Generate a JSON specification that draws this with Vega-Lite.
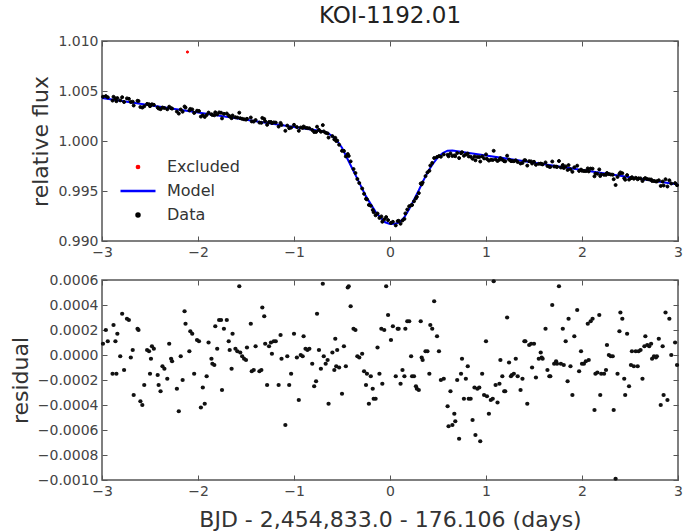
{
  "$schema": "https://vega.github.io/schema/vega-lite/v6.json",
  "padding": {"left": 8, "right": 0, "top": 4, "bottom": 0},
  "background": "white",
  "spacing": 12,
  "config": {
    "font": "DejaVu Sans",
    "view": {"stroke": "#555", "strokeWidth": 1.5},
    "axis": {"grid": false, "domain": false, "tickColor": "#555", "tickSize": -5, "tickWidth": 1, "labelPadding": 9, "labelFlush": false, "labelColor": "#444", "labelFontSize": 14, "labelFont": "DejaVu Sans", "titleFont": "DejaVu Sans", "titleFontSize": 22, "titleFontWeight": "normal", "titleColor": "#333", "titlePadding": 5},
    "legend": {"orient": "none", "legendX": 28, "legendY": 118, "labelFontSize": 16, "labelFont": "DejaVu Sans", "labelColor": "#333", "rowPadding": 8, "labelOffset": 21, "symbolStrokeWidth": 2.5}
  },
  "datasets": {
    "model": [
      {"t": -3, "flux": 1.0043, "s": "Model"}, {"t": -2, "flux": 1.00285, "s": "Model"}, {"t": -1, "flux": 1.0014, "s": "Model"},
      {"t": -0.7, "flux": 1.00097, "s": "Model"}, {"t": -0.65, "flux": 1.0008, "s": "Model"}, {"t": -0.6, "flux": 1.00047, "s": "Model"},
      {"t": -0.55, "flux": 1.0, "s": "Model"}, {"t": -0.5, "flux": 0.99933, "s": "Model"}, {"t": -0.45, "flux": 0.99835, "s": "Model"},
      {"t": -0.4, "flux": 0.99738, "s": "Model"}, {"t": -0.35, "flux": 0.99641, "s": "Model"}, {"t": -0.3, "flux": 0.99544, "s": "Model"},
      {"t": -0.25, "flux": 0.99446, "s": "Model"}, {"t": -0.2, "flux": 0.99369, "s": "Model"}, {"t": -0.15, "flux": 0.99292, "s": "Model"},
      {"t": -0.1, "flux": 0.99235, "s": "Model"}, {"t": -0.05, "flux": 0.99187, "s": "Model"}, {"t": 0, "flux": 0.9917, "s": "Model"},
      {"t": 0.05, "flux": 0.99173, "s": "Model"}, {"t": 0.1, "flux": 0.99186, "s": "Model"}, {"t": 0.15, "flux": 0.99238, "s": "Model"},
      {"t": 0.2, "flux": 0.99321, "s": "Model"}, {"t": 0.25, "flux": 0.99414, "s": "Model"}, {"t": 0.3, "flux": 0.99507, "s": "Model"},
      {"t": 0.35, "flux": 0.99609, "s": "Model"}, {"t": 0.4, "flux": 0.99702, "s": "Model"}, {"t": 0.45, "flux": 0.99775, "s": "Model"},
      {"t": 0.5, "flux": 0.99838, "s": "Model"}, {"t": 0.55, "flux": 0.9988, "s": "Model"}, {"t": 0.6, "flux": 0.99903, "s": "Model"},
      {"t": 0.65, "flux": 0.99906, "s": "Model"}, {"t": 1, "flux": 0.99855, "s": "Model"}, {"t": 2, "flux": 0.9971, "s": "Model"},
      {"t": 3, "flux": 0.99565, "s": "Model"}
    ],
    "lc": [
      {"t": -2.11, "flux": 1.0089, "s": "Excluded"},
      {"t": -2.99, "flux": 1.00443, "resid": 0.00009, "s": "Data"},
      {"t": -2.96, "flux": 1.00449, "resid": 0.0002, "s": "Data"},
      {"t": -2.94, "flux": 1.00437, "resid": 0.00011, "s": "Data"},
      {"t": -2.89, "flux": 1.00404, "resid": -0.00015, "s": "Data"},
      {"t": -2.88, "flux": 1.00442, "resid": 0.00024, "s": "Data"},
      {"t": -2.86, "flux": 1.00426, "resid": 0.00011, "s": "Data"},
      {"t": -2.85, "flux": 1.00398, "resid": -0.00015, "s": "Data"},
      {"t": -2.84, "flux": 1.00429, "resid": 0.00017, "s": "Data"},
      {"t": -2.81, "flux": 1.00406, "resid": -0.00001, "s": "Data"},
      {"t": -2.79, "flux": 1.00438, "resid": 0.00033, "s": "Data"},
      {"t": -2.77, "flux": 1.0039, "resid": -0.00012, "s": "Data"},
      {"t": -2.74, "flux": 1.00426, "resid": 0.00029, "s": "Data"},
      {"t": -2.72, "flux": 1.00422, "resid": 0.00028, "s": "Data"},
      {"t": -2.7, "flux": 1.0039, "resid": -0.00002, "s": "Data"},
      {"t": -2.68, "flux": 1.00393, "resid": 0.00004, "s": "Data"},
      {"t": -2.67, "flux": 1.00355, "resid": -0.00032, "s": "Data"},
      {"t": -2.63, "flux": 1.00402, "resid": 0.00021, "s": "Data"},
      {"t": -2.62, "flux": 1.004, "resid": 0.0002, "s": "Data"},
      {"t": -2.6, "flux": 1.0034, "resid": -0.00037, "s": "Data"},
      {"t": -2.58, "flux": 1.00334, "resid": -0.0004, "s": "Data"},
      {"t": -2.56, "flux": 1.00347, "resid": -0.00024, "s": "Data"},
      {"t": -2.53, "flux": 1.00371, "resid": 0.00004, "s": "Data"},
      {"t": -2.51, "flux": 1.00367, "resid": 0.00003, "s": "Data"},
      {"t": -2.5, "flux": 1.00348, "resid": -0.00015, "s": "Data"},
      {"t": -2.49, "flux": 1.00358, "resid": -0.00003, "s": "Data"},
      {"t": -2.48, "flux": 1.00367, "resid": 0.00007, "s": "Data"},
      {"t": -2.46, "flux": 1.00362, "resid": 0.00005, "s": "Data"},
      {"t": -2.42, "flux": 1.00335, "resid": -0.00016, "s": "Data"},
      {"t": -2.41, "flux": 1.00325, "resid": -0.00024, "s": "Data"},
      {"t": -2.39, "flux": 1.00318, "resid": -0.00029, "s": "Data"},
      {"t": -2.37, "flux": 1.00335, "resid": -0.00009, "s": "Data"},
      {"t": -2.35, "flux": 1.0033, "resid": -0.00011, "s": "Data"},
      {"t": -2.32, "flux": 1.00317, "resid": -0.00019, "s": "Data"},
      {"t": -2.3, "flux": 1.00343, "resid": 0.00009, "s": "Data"},
      {"t": -2.28, "flux": 1.00328, "resid": -0.00003, "s": "Data"},
      {"t": -2.27, "flux": 1.00324, "resid": -0.00005, "s": "Data"},
      {"t": -2.22, "flux": 1.00295, "resid": -0.00027, "s": "Data"},
      {"t": -2.2, "flux": 1.00274, "resid": -0.00045, "s": "Data"},
      {"t": -2.18, "flux": 1.00315, "resid": -0.00001, "s": "Data"},
      {"t": -2.16, "flux": 1.00293, "resid": -0.0002, "s": "Data"},
      {"t": -2.14, "flux": 1.00345, "resid": 0.00035, "s": "Data"},
      {"t": -2.13, "flux": 1.00334, "resid": 0.00025, "s": "Data"},
      {"t": -2.09, "flux": 1.00306, "resid": 0.00003, "s": "Data"},
      {"t": -2.08, "flux": 1.00321, "resid": 0.00019, "s": "Data"},
      {"t": -2.06, "flux": 1.00316, "resid": 0.00017, "s": "Data"},
      {"t": -2.04, "flux": 1.00281, "resid": -0.00015, "s": "Data"},
      {"t": -2.01, "flux": 1.00303, "resid": 0.00012, "s": "Data"},
      {"t": -1.99, "flux": 1.003, "resid": 0.00011, "s": "Data"},
      {"t": -1.97, "flux": 1.00244, "resid": -0.00042, "s": "Data"},
      {"t": -1.95, "flux": 1.00257, "resid": -0.00026, "s": "Data"},
      {"t": -1.93, "flux": 1.00241, "resid": -0.00039, "s": "Data"},
      {"t": -1.91, "flux": 1.0026, "resid": -0.00017, "s": "Data"},
      {"t": -1.89, "flux": 1.00284, "resid": 0.0001, "s": "Data"},
      {"t": -1.86, "flux": 1.00267, "resid": -0.00003, "s": "Data"},
      {"t": -1.85, "flux": 1.00261, "resid": -0.00007, "s": "Data"},
      {"t": -1.83, "flux": 1.00257, "resid": -0.00008, "s": "Data"},
      {"t": -1.82, "flux": 1.00287, "resid": 0.00023, "s": "Data"},
      {"t": -1.8, "flux": 1.00266, "resid": 0.00005, "s": "Data"},
      {"t": -1.78, "flux": 1.00286, "resid": 0.00028, "s": "Data"},
      {"t": -1.76, "flux": 1.00283, "resid": 0.00028, "s": "Data"},
      {"t": -1.75, "flux": 1.00226, "resid": -0.00028, "s": "Data"},
      {"t": -1.73, "flux": 1.00272, "resid": 0.00021, "s": "Data"},
      {"t": -1.7, "flux": 1.00275, "resid": 0.00028, "s": "Data"},
      {"t": -1.68, "flux": 1.00255, "resid": 0.00011, "s": "Data"},
      {"t": -1.67, "flux": 1.00246, "resid": 0.00004, "s": "Data"},
      {"t": -1.65, "flux": 1.00228, "resid": -0.00011, "s": "Data"},
      {"t": -1.64, "flux": 1.00255, "resid": 0.00017, "s": "Data"},
      {"t": -1.61, "flux": 1.00238, "resid": 0.00005, "s": "Data"},
      {"t": -1.59, "flux": 1.00234, "resid": 0.00003, "s": "Data"},
      {"t": -1.57, "flux": 1.00283, "resid": 0.00055, "s": "Data"},
      {"t": -1.56, "flux": 1.00228, "resid": 0.00002, "s": "Data"},
      {"t": -1.54, "flux": 1.00222, "resid": -0.00001, "s": "Data"},
      {"t": -1.52, "flux": 1.00217, "resid": -0.00003, "s": "Data"},
      {"t": -1.5, "flux": 1.00214, "resid": -0.00004, "s": "Data"},
      {"t": -1.49, "flux": 1.00222, "resid": 0.00006, "s": "Data"},
      {"t": -1.45, "flux": 1.00235, "resid": 0.00025, "s": "Data"},
      {"t": -1.44, "flux": 1.00196, "resid": -0.00013, "s": "Data"},
      {"t": -1.42, "flux": 1.00194, "resid": -0.00012, "s": "Data"},
      {"t": -1.4, "flux": 1.0021, "resid": 0.00007, "s": "Data"},
      {"t": -1.36, "flux": 1.00184, "resid": -0.00013, "s": "Data"},
      {"t": -1.34, "flux": 1.00182, "resid": -0.00012, "s": "Data"},
      {"t": -1.33, "flux": 1.00231, "resid": 0.00038, "s": "Data"},
      {"t": -1.31, "flux": 1.00221, "resid": 0.00031, "s": "Data"},
      {"t": -1.3, "flux": 1.00197, "resid": 0.00009, "s": "Data"},
      {"t": -1.28, "flux": 1.00162, "resid": -0.00024, "s": "Data"},
      {"t": -1.26, "flux": 1.0019, "resid": 0.00007, "s": "Data"},
      {"t": -1.24, "flux": 1.0019, "resid": 0.0001, "s": "Data"},
      {"t": -1.23, "flux": 1.00179, "resid": 0.00001, "s": "Data"},
      {"t": -1.21, "flux": 1.00186, "resid": 0.00011, "s": "Data"},
      {"t": -1.19, "flux": 1.00184, "resid": 0.00011, "s": "Data"},
      {"t": -1.16, "flux": 1.00144, "resid": -0.00024, "s": "Data"},
      {"t": -1.14, "flux": 1.00181, "resid": 0.00016, "s": "Data"},
      {"t": -1.13, "flux": 1.00161, "resid": -0.00003, "s": "Data"},
      {"t": -1.09, "flux": 1.00102, "resid": -0.00056, "s": "Data"},
      {"t": -1.07, "flux": 1.00154, "resid": -0.00001, "s": "Data"},
      {"t": -1.05, "flux": 1.00128, "resid": -0.00024, "s": "Data"},
      {"t": -1.03, "flux": 1.00134, "resid": -0.00015, "s": "Data"},
      {"t": -1.0, "flux": 1.00162, "resid": 0.00017, "s": "Data"},
      {"t": -0.97, "flux": 1.00139, "resid": -0.00002, "s": "Data"},
      {"t": -0.95, "flux": 1.00102, "resid": -0.00036, "s": "Data"},
      {"t": -0.93, "flux": 1.00135, "resid": 0.0, "s": "Data"},
      {"t": -0.91, "flux": 1.00131, "resid": -0.00001, "s": "Data"},
      {"t": -0.9, "flux": 1.00145, "resid": 0.00015, "s": "Data"},
      {"t": -0.88, "flux": 1.00133, "resid": 0.00005, "s": "Data"},
      {"t": -0.86, "flux": 1.00129, "resid": 0.00004, "s": "Data"},
      {"t": -0.84, "flux": 1.00127, "resid": 0.00005, "s": "Data"},
      {"t": -0.81, "flux": 1.0011, "resid": -0.00007, "s": "Data"},
      {"t": -0.79, "flux": 1.0009, "resid": -0.00025, "s": "Data"},
      {"t": -0.77, "flux": 1.00091, "resid": -0.00021, "s": "Data"},
      {"t": -0.76, "flux": 1.00143, "resid": 0.00033, "s": "Data"},
      {"t": -0.74, "flux": 1.00111, "resid": 0.00004, "s": "Data"},
      {"t": -0.72, "flux": 1.00093, "resid": -0.00011, "s": "Data"},
      {"t": -0.7, "flux": 1.00159, "resid": 0.00057, "s": "Data"},
      {"t": -0.69, "flux": 1.00096, "resid": -0.00001, "s": "Data"},
      {"t": -0.67, "flux": 1.00082, "resid": -0.00007, "s": "Data"},
      {"t": -0.65, "flux": 1.00076, "resid": -0.00004, "s": "Data"},
      {"t": -0.64, "flux": 1.00034, "resid": -0.00039, "s": "Data"},
      {"t": -0.6, "flux": 1.00049, "resid": 0.00002, "s": "Data"},
      {"t": -0.58, "flux": 1.00016, "resid": -0.00012, "s": "Data"},
      {"t": -0.57, "flux": 1.00032, "resid": 0.00013, "s": "Data"},
      {"t": -0.56, "flux": 1.0, "resid": -0.00009, "s": "Data"},
      {"t": -0.55, "flux": 1.00004, "resid": 0.00004, "s": "Data"},
      {"t": -0.53, "flux": 0.99963, "resid": -0.0001, "s": "Data"},
      {"t": -0.5, "flux": 0.99902, "resid": -0.00031, "s": "Data"},
      {"t": -0.48, "flux": 0.99901, "resid": 0.00007, "s": "Data"},
      {"t": -0.46, "flux": 0.99846, "resid": -0.00009, "s": "Data"},
      {"t": -0.44, "flux": 0.9987, "resid": 0.00054, "s": "Data"},
      {"t": -0.43, "flux": 0.99851, "resid": 0.00055, "s": "Data"},
      {"t": -0.41, "flux": 0.99796, "resid": 0.00039, "s": "Data"},
      {"t": -0.38, "flux": 0.9972, "resid": 0.00021, "s": "Data"},
      {"t": -0.36, "flux": 0.9968, "resid": 0.0002, "s": "Data"},
      {"t": -0.34, "flux": 0.9962, "resid": -0.00001, "s": "Data"},
      {"t": -0.32, "flux": 0.9958, "resid": -0.00002, "s": "Data"},
      {"t": -0.29, "flux": 0.99525, "resid": 0.00001, "s": "Data"},
      {"t": -0.27, "flux": 0.99472, "resid": -0.00013, "s": "Data"},
      {"t": -0.25, "flux": 0.99422, "resid": -0.00024, "s": "Data"},
      {"t": -0.24, "flux": 0.99416, "resid": -0.00015, "s": "Data"},
      {"t": -0.22, "flux": 0.99361, "resid": -0.00039, "s": "Data"},
      {"t": -0.2, "flux": 0.99352, "resid": -0.00017, "s": "Data"},
      {"t": -0.18, "flux": 0.99311, "resid": -0.00027, "s": "Data"},
      {"t": -0.17, "flux": 0.99288, "resid": -0.00035, "s": "Data"},
      {"t": -0.15, "flux": 0.99257, "resid": -0.00035, "s": "Data"},
      {"t": -0.13, "flux": 0.99275, "resid": 0.00006, "s": "Data"},
      {"t": -0.11, "flux": 0.99231, "resid": -0.00015, "s": "Data"},
      {"t": -0.09, "flux": 0.99246, "resid": 0.00021, "s": "Data"},
      {"t": -0.08, "flux": 0.99193, "resid": -0.00023, "s": "Data"},
      {"t": -0.06, "flux": 0.99217, "resid": 0.0002, "s": "Data"},
      {"t": -0.04, "flux": 0.99239, "resid": 0.00055, "s": "Data"},
      {"t": -0.02, "flux": 0.99209, "resid": 0.00032, "s": "Data"},
      {"t": 0.01, "flux": 0.99181, "resid": 0.00012, "s": "Data"},
      {"t": 0.03, "flux": 0.99192, "resid": 0.00023, "s": "Data"},
      {"t": 0.06, "flux": 0.99156, "resid": -0.00017, "s": "Data"},
      {"t": 0.08, "flux": 0.99199, "resid": 0.00021, "s": "Data"},
      {"t": 0.09, "flux": 0.99202, "resid": 0.00021, "s": "Data"},
      {"t": 0.11, "flux": 0.99173, "resid": -0.00023, "s": "Data"},
      {"t": 0.13, "flux": 0.99205, "resid": -0.00012, "s": "Data"},
      {"t": 0.15, "flux": 0.99221, "resid": -0.00017, "s": "Data"},
      {"t": 0.16, "flux": 0.99276, "resid": 0.00021, "s": "Data"},
      {"t": 0.18, "flux": 0.99315, "resid": 0.00027, "s": "Data"},
      {"t": 0.2, "flux": 0.99348, "resid": 0.00027, "s": "Data"},
      {"t": 0.22, "flux": 0.99357, "resid": -0.00001, "s": "Data"},
      {"t": 0.23, "flux": 0.9936, "resid": -0.00017, "s": "Data"},
      {"t": 0.25, "flux": 0.99397, "resid": -0.00017, "s": "Data"},
      {"t": 0.27, "flux": 0.99426, "resid": -0.00025, "s": "Data"},
      {"t": 0.28, "flux": 0.99442, "resid": -0.00027, "s": "Data"},
      {"t": 0.3, "flux": 0.99479, "resid": -0.00028, "s": "Data"},
      {"t": 0.32, "flux": 0.99575, "resid": 0.00027, "s": "Data"},
      {"t": 0.33, "flux": 0.99566, "resid": -0.00002, "s": "Data"},
      {"t": 0.34, "flux": 0.99585, "resid": -0.00004, "s": "Data"},
      {"t": 0.37, "flux": 0.99649, "resid": 0.00003, "s": "Data"},
      {"t": 0.39, "flux": 0.99686, "resid": 0.00003, "s": "Data"},
      {"t": 0.41, "flux": 0.99702, "resid": -0.00015, "s": "Data"},
      {"t": 0.42, "flux": 0.99755, "resid": 0.00024, "s": "Data"},
      {"t": 0.44, "flux": 0.99781, "resid": 0.00021, "s": "Data"},
      {"t": 0.46, "flux": 0.9983, "resid": 0.00043, "s": "Data"},
      {"t": 0.49, "flux": 0.9984, "resid": 0.00015, "s": "Data"},
      {"t": 0.51, "flux": 0.99849, "resid": 0.00003, "s": "Data"},
      {"t": 0.53, "flux": 0.99843, "resid": -0.0002, "s": "Data"},
      {"t": 0.56, "flux": 0.99866, "resid": -0.00019, "s": "Data"},
      {"t": 0.6, "flux": 0.99862, "resid": -0.00041, "s": "Data"},
      {"t": 0.61, "flux": 0.99847, "resid": -0.00057, "s": "Data"},
      {"t": 0.63, "flux": 0.99876, "resid": -0.00029, "s": "Data"},
      {"t": 0.65, "flux": 0.9985, "resid": -0.00056, "s": "Data"},
      {"t": 0.67, "flux": 0.99856, "resid": -0.00047, "s": "Data"},
      {"t": 0.68, "flux": 0.99848, "resid": -0.00053, "s": "Data"},
      {"t": 0.7, "flux": 0.99879, "resid": -0.0002, "s": "Data"},
      {"t": 0.72, "flux": 0.99829, "resid": -0.00067, "s": "Data"},
      {"t": 0.74, "flux": 0.99878, "resid": -0.00015, "s": "Data"},
      {"t": 0.75, "flux": 0.99888, "resid": -0.00003, "s": "Data"},
      {"t": 0.77, "flux": 0.99853, "resid": -0.00035, "s": "Data"},
      {"t": 0.79, "flux": 0.99866, "resid": -0.00019, "s": "Data"},
      {"t": 0.81, "flux": 0.99874, "resid": -0.00009, "s": "Data"},
      {"t": 0.82, "flux": 0.99846, "resid": -0.00035, "s": "Data"},
      {"t": 0.84, "flux": 0.99843, "resid": -0.00035, "s": "Data"},
      {"t": 0.86, "flux": 0.99823, "resid": -0.00052, "s": "Data"},
      {"t": 0.88, "flux": 0.99846, "resid": -0.00026, "s": "Data"},
      {"t": 0.89, "flux": 0.99807, "resid": -0.00064, "s": "Data"},
      {"t": 0.91, "flux": 0.99841, "resid": -0.00027, "s": "Data"},
      {"t": 0.93, "flux": 0.99839, "resid": -0.00026, "s": "Data"},
      {"t": 0.94, "flux": 0.99795, "resid": -0.00069, "s": "Data"},
      {"t": 0.96, "flux": 0.99846, "resid": -0.00015, "s": "Data"},
      {"t": 0.98, "flux": 0.99826, "resid": -0.00032, "s": "Data"},
      {"t": 1.0, "flux": 0.99866, "resid": 0.00011, "s": "Data"},
      {"t": 1.01, "flux": 0.99821, "resid": -0.00033, "s": "Data"},
      {"t": 1.03, "flux": 0.99804, "resid": -0.00047, "s": "Data"},
      {"t": 1.05, "flux": 0.99812, "resid": -0.00036, "s": "Data"},
      {"t": 1.07, "flux": 0.9981, "resid": -0.00035, "s": "Data"},
      {"t": 1.08, "flux": 0.99902, "resid": 0.00059, "s": "Data"},
      {"t": 1.1, "flux": 0.99816, "resid": -0.00024, "s": "Data"},
      {"t": 1.12, "flux": 0.998, "resid": -0.00038, "s": "Data"},
      {"t": 1.14, "flux": 0.99812, "resid": -0.00023, "s": "Data"},
      {"t": 1.15, "flux": 0.99829, "resid": -0.00004, "s": "Data"},
      {"t": 1.17, "flux": 0.99813, "resid": -0.00017, "s": "Data"},
      {"t": 1.19, "flux": 0.99798, "resid": -0.00029, "s": "Data"},
      {"t": 1.2, "flux": 0.99797, "resid": -0.00029, "s": "Data"},
      {"t": 1.22, "flux": 0.99853, "resid": 0.0003, "s": "Data"},
      {"t": 1.24, "flux": 0.99814, "resid": -0.00006, "s": "Data"},
      {"t": 1.26, "flux": 0.998, "resid": -0.00017, "s": "Data"},
      {"t": 1.27, "flux": 0.998, "resid": -0.00016, "s": "Data"},
      {"t": 1.29, "flux": 0.99798, "resid": -0.00015, "s": "Data"},
      {"t": 1.31, "flux": 0.99807, "resid": -0.00003, "s": "Data"},
      {"t": 1.33, "flux": 0.9979, "resid": -0.00017, "s": "Data"},
      {"t": 1.36, "flux": 0.99775, "resid": -0.00028, "s": "Data"},
      {"t": 1.38, "flux": 0.99781, "resid": -0.00019, "s": "Data"},
      {"t": 1.4, "flux": 0.99808, "resid": 0.00011, "s": "Data"},
      {"t": 1.41, "flux": 0.99807, "resid": 0.00011, "s": "Data"},
      {"t": 1.43, "flux": 0.99754, "resid": -0.00039, "s": "Data"},
      {"t": 1.45, "flux": 0.99798, "resid": 0.00008, "s": "Data"},
      {"t": 1.47, "flux": 0.99796, "resid": 0.00009, "s": "Data"},
      {"t": 1.48, "flux": 0.99775, "resid": -0.0001, "s": "Data"},
      {"t": 1.5, "flux": 0.99792, "resid": 0.00009, "s": "Data"},
      {"t": 1.52, "flux": 0.99762, "resid": -0.00018, "s": "Data"},
      {"t": 1.55, "flux": 0.99772, "resid": -0.00003, "s": "Data"},
      {"t": 1.57, "flux": 0.99774, "resid": 0.00002, "s": "Data"},
      {"t": 1.58, "flux": 0.99769, "resid": -0.00002, "s": "Data"},
      {"t": 1.59, "flux": 0.99766, "resid": -0.00003, "s": "Data"},
      {"t": 1.62, "flux": 0.99786, "resid": 0.00021, "s": "Data"},
      {"t": 1.64, "flux": 0.9975, "resid": -0.00012, "s": "Data"},
      {"t": 1.66, "flux": 0.99742, "resid": -0.00017, "s": "Data"},
      {"t": 1.67, "flux": 0.99741, "resid": -0.00017, "s": "Data"},
      {"t": 1.69, "flux": 0.99795, "resid": 0.0004, "s": "Data"},
      {"t": 1.71, "flux": 0.99745, "resid": -0.00007, "s": "Data"},
      {"t": 1.73, "flux": 0.99744, "resid": -0.00005, "s": "Data"},
      {"t": 1.74, "flux": 0.99741, "resid": -0.00007, "s": "Data"},
      {"t": 1.76, "flux": 0.998, "resid": 0.00055, "s": "Data"},
      {"t": 1.78, "flux": 0.99735, "resid": -0.00007, "s": "Data"},
      {"t": 1.8, "flux": 0.9976, "resid": 0.00021, "s": "Data"},
      {"t": 1.81, "flux": 0.9973, "resid": -0.00008, "s": "Data"},
      {"t": 1.83, "flux": 0.99746, "resid": 0.00011, "s": "Data"},
      {"t": 1.85, "flux": 0.99711, "resid": -0.00021, "s": "Data"},
      {"t": 1.86, "flux": 0.99759, "resid": 0.00029, "s": "Data"},
      {"t": 1.88, "flux": 0.99718, "resid": -0.00009, "s": "Data"},
      {"t": 1.9, "flux": 0.99692, "resid": -0.00032, "s": "Data"},
      {"t": 1.92, "flux": 0.99737, "resid": 0.00015, "s": "Data"},
      {"t": 1.95, "flux": 0.99753, "resid": 0.00036, "s": "Data"},
      {"t": 1.97, "flux": 0.99701, "resid": -0.00013, "s": "Data"},
      {"t": 1.99, "flux": 0.99714, "resid": 0.00003, "s": "Data"},
      {"t": 2.0, "flux": 0.99703, "resid": -0.00007, "s": "Data"},
      {"t": 2.02, "flux": 0.997, "resid": -0.00007, "s": "Data"},
      {"t": 2.04, "flux": 0.99699, "resid": -0.00005, "s": "Data"},
      {"t": 2.06, "flux": 0.99726, "resid": 0.00025, "s": "Data"},
      {"t": 2.07, "flux": 0.99696, "resid": -0.00004, "s": "Data"},
      {"t": 2.09, "flux": 0.99724, "resid": 0.00027, "s": "Data"},
      {"t": 2.11, "flux": 0.99723, "resid": 0.00029, "s": "Data"},
      {"t": 2.13, "flux": 0.99647, "resid": -0.00044, "s": "Data"},
      {"t": 2.14, "flux": 0.99675, "resid": -0.00015, "s": "Data"},
      {"t": 2.16, "flux": 0.99673, "resid": -0.00014, "s": "Data"},
      {"t": 2.18, "flux": 0.99716, "resid": 0.00032, "s": "Data"},
      {"t": 2.19, "flux": 0.9965, "resid": -0.00032, "s": "Data"},
      {"t": 2.2, "flux": 0.99666, "resid": -0.00015, "s": "Data"},
      {"t": 2.23, "flux": 0.99662, "resid": -0.00015, "s": "Data"},
      {"t": 2.25, "flux": 0.99662, "resid": -0.00012, "s": "Data"},
      {"t": 2.26, "flux": 0.9968, "resid": 0.00008, "s": "Data"},
      {"t": 2.28, "flux": 0.99669, "resid": 0.0, "s": "Data"},
      {"t": 2.3, "flux": 0.99665, "resid": -0.00001, "s": "Data"},
      {"t": 2.32, "flux": 0.99663, "resid": -0.00001, "s": "Data"},
      {"t": 2.33, "flux": 0.99618, "resid": -0.00044, "s": "Data"},
      {"t": 2.35, "flux": 0.9956, "resid": -0.00099, "s": "Data"},
      {"t": 2.37, "flux": 0.99641, "resid": -0.00015, "s": "Data"},
      {"t": 2.39, "flux": 0.99672, "resid": 0.00019, "s": "Data"},
      {"t": 2.4, "flux": 0.99686, "resid": 0.00034, "s": "Data"},
      {"t": 2.42, "flux": 0.99678, "resid": 0.00029, "s": "Data"},
      {"t": 2.44, "flux": 0.99627, "resid": -0.00019, "s": "Data"},
      {"t": 2.45, "flux": 0.99613, "resid": -0.00032, "s": "Data"},
      {"t": 2.47, "flux": 0.99659, "resid": 0.00017, "s": "Data"},
      {"t": 2.49, "flux": 0.99614, "resid": -0.00025, "s": "Data"},
      {"t": 2.51, "flux": 0.99628, "resid": -0.00008, "s": "Data"},
      {"t": 2.52, "flux": 0.99638, "resid": 0.00003, "s": "Data"},
      {"t": 2.54, "flux": 0.99623, "resid": -0.00009, "s": "Data"},
      {"t": 2.56, "flux": 0.99632, "resid": 0.00003, "s": "Data"},
      {"t": 2.58, "flux": 0.99617, "resid": -0.00009, "s": "Data"},
      {"t": 2.59, "flux": 0.99627, "resid": 0.00003, "s": "Data"},
      {"t": 2.61, "flux": 0.99626, "resid": 0.00004, "s": "Data"},
      {"t": 2.63, "flux": 0.996, "resid": -0.00019, "s": "Data"},
      {"t": 2.65, "flux": 0.99623, "resid": 0.00007, "s": "Data"},
      {"t": 2.66, "flux": 0.99629, "resid": 0.00015, "s": "Data"},
      {"t": 2.68, "flux": 0.99619, "resid": 0.00008, "s": "Data"},
      {"t": 2.7, "flux": 0.99616, "resid": 0.00007, "s": "Data"},
      {"t": 2.72, "flux": 0.99615, "resid": 0.00009, "s": "Data"},
      {"t": 2.73, "flux": 0.99601, "resid": -0.00003, "s": "Data"},
      {"t": 2.75, "flux": 0.996, "resid": -0.00001, "s": "Data"},
      {"t": 2.77, "flux": 0.99596, "resid": -0.00002, "s": "Data"},
      {"t": 2.78, "flux": 0.99596, "resid": -0.00001, "s": "Data"},
      {"t": 2.8, "flux": 0.99607, "resid": 0.00013, "s": "Data"},
      {"t": 2.82, "flux": 0.99551, "resid": -0.0004, "s": "Data"},
      {"t": 2.84, "flux": 0.99595, "resid": 0.00007, "s": "Data"},
      {"t": 2.85, "flux": 0.99555, "resid": -0.00032, "s": "Data"},
      {"t": 2.87, "flux": 0.99618, "resid": 0.00034, "s": "Data"},
      {"t": 2.89, "flux": 0.99545, "resid": -0.00036, "s": "Data"},
      {"t": 2.91, "flux": 0.99607, "resid": 0.00029, "s": "Data"},
      {"t": 2.93, "flux": 0.99575, "resid": 0.0, "s": "Data"},
      {"t": 2.97, "flux": 0.99579, "resid": 0.0001, "s": "Data"},
      {"t": 2.99, "flux": 0.99558, "resid": -0.00008, "s": "Data"}
    ]
  },
  "vconcat": [
    {
      "width": 576,
      "height": 200,
      "title": {"text": "KOI-1192.01", "fontSize": 23, "fontWeight": "normal", "color": "#222", "offset": 6, "font": "DejaVu Sans"},
      "layer": [
        {
          "data": {"name": "model"},
          "mark": {"type": "line", "strokeWidth": 2},
          "encoding": {
            "x": {"field": "t", "type": "quantitative", "scale": {"domain": [-3, 3], "nice": false}, "axis": {"orient": "top", "labels": false, "title": null, "values": [-3, -2, -1, 0, 1, 2, 3]}},
            "y": {"field": "flux", "type": "quantitative", "scale": {"domain": [0.99, 1.01], "nice": false, "zero": false}, "axis": {"orient": "right", "labels": false, "title": null, "values": [0.99, 0.995, 1.0, 1.005, 1.01]}},
            "stroke": {"field": "s", "type": "nominal", "scale": {"domain": ["Excluded", "Model", "Data"], "range": ["#ff0000", "#0000ff", "#000000"]}, "legend": {"title": null}}
          }
        },
        {
          "data": {"name": "lc"},
          "mark": {"type": "point", "strokeWidth": 1, "opacity": 1},
          "encoding": {
            "x": {"field": "t", "type": "quantitative", "scale": {"domain": [-3, 3], "nice": false}, "axis": {"orient": "bottom", "title": null, "values": [-3, -2, -1, 0, 1, 2, 3], "format": "d"}},
            "y": {"field": "flux", "type": "quantitative", "scale": {"domain": [0.99, 1.01], "nice": false, "zero": false}, "axis": {"orient": "left", "title": "relative flux", "values": [0.99, 0.995, 1.0, 1.005, 1.01], "format": ".3f"}},
            "stroke": {"field": "s", "type": "nominal", "scale": {"domain": ["Excluded", "Model", "Data"], "range": ["#ff0000", "#0000ff", "#000000"]}, "legend": {"title": null}},
            "fill": {"field": "s", "type": "nominal", "scale": {"domain": ["Excluded", "Model", "Data"], "range": ["#ff0000", "#0000ff", "#000000"]}, "legend": {"title": null}},
            "shape": {"field": "s", "type": "nominal", "scale": {"domain": ["Excluded", "Model", "Data"], "range": ["circle", "M-3,0H3", "circle"]}, "legend": {"title": null}},
            "size": {"field": "s", "type": "nominal", "scale": {"type": "ordinal", "domain": ["Excluded", "Model", "Data"], "range": [5, 136, 9]}, "legend": {"title": null}}
          }
        }
      ],
      "resolve": {"axis": {"x": "independent", "y": "independent"}}
    },
    {
      "width": 576,
      "height": 200,
      "data": {"name": "lc"},
      "transform": [{"filter": "datum.s == 'Data'"}],
      "layer": [
        {
          "mark": {"type": "circle", "size": 18, "color": "#111", "opacity": 1},
          "encoding": {
            "x": {"field": "t", "type": "quantitative", "scale": {"domain": [-3, 3], "nice": false}, "axis": {"orient": "bottom", "title": "BJD - 2,454,833.0 - 176.106 (days)", "titlePadding": 11, "values": [-3, -2, -1, 0, 1, 2, 3], "format": "d"}},
            "y": {"field": "resid", "type": "quantitative", "scale": {"domain": [-0.001, 0.0006], "nice": false, "zero": false}, "axis": {"orient": "left", "title": "residual", "values": [-0.001, -0.0008, -0.0006, -0.0004, -0.0002, 0, 0.0002, 0.0004, 0.0006], "format": ".4f"}}
          }
        },
        {
          "mark": {"type": "circle", "opacity": 0},
          "encoding": {
            "x": {"field": "t", "type": "quantitative", "scale": {"domain": [-3, 3], "nice": false}, "axis": {"orient": "top", "labels": false, "title": null, "values": [-3, -2, -1, 0, 1, 2, 3]}},
            "y": {"field": "resid", "type": "quantitative", "scale": {"domain": [-0.001, 0.0006], "nice": false, "zero": false}, "axis": {"orient": "right", "labels": false, "title": null, "values": [-0.001, -0.0008, -0.0006, -0.0004, -0.0002, 0, 0.0002, 0.0004, 0.0006]}}
          }
        }
      ],
      "resolve": {"axis": {"x": "independent", "y": "independent"}}
    }
  ]
}
